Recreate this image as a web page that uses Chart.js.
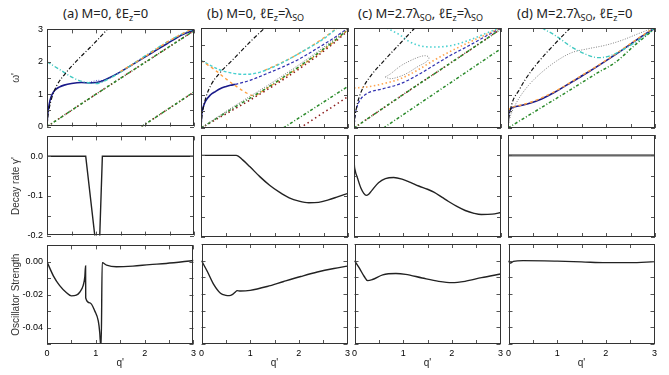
<!DOCTYPE html>
<html>
<head>
<meta charset="utf-8">
<script src="https://cdn.jsdelivr.net/npm/chart.js@4.4.1/dist/chart.umd.min.js"></script>
<style>
  body { margin: 0; background: #fff; }
  #wrap { position: relative; width: 669px; height: 375px; overflow: hidden; }
  canvas { position: absolute; }
  .ttl { position: absolute; top: 5px; font: 13px "Noto Sans", sans-serif; color: #222; white-space: nowrap; line-height: 16px; }
  .ttl sub { font-size: 9px; vertical-align: -3px; line-height: 0; }
</style>
</head>
<body>
<div id="wrap">
  <div class="ttl" style="left:63px">(a) M=0, ℓE<sub>z</sub>=0</div>
  <div class="ttl" style="left:207px">(b) M=0, ℓE<sub>z</sub>=λ<sub>SO</sub></div>
  <div class="ttl" style="left:358px">(c) M=2.7λ<sub>SO</sub>, ℓE<sub>z</sub>=λ<sub>SO</sub></div>
  <div class="ttl" style="left:517px">(d) M=2.7λ<sub>SO</sub>, ℓE<sub>z</sub>=0</div>
</div>
<script>
// tick labels
const qTicks = [0, 1, 2, 3];
const omegaTicks = [0, 1, 2, 3];
const decayTicks = [0, -0.1, -0.2];
const oscTicks = [0, -0.02, -0.04];

// ω' branches as [q', ω'] pairs
const aBlack = [[0,0],[0.02,0.35],[0.05,0.6],[0.1,0.9],[0.2,1.27],[0.37,1.63],[0.6,2.02],[0.95,2.55],[1.23,3.0]];
const aBlue = [[0,0],[0.01,0.3],[0.03,0.55],[0.06,0.8],[0.1,0.98],[0.16,1.12],[0.25,1.22],[0.35,1.28],[0.5,1.33],[0.7,1.36],[0.88,1.35],[1.0,1.36],[1.1,1.39],[1.22,1.47],[1.5,1.69],[1.76,1.93],[2.1,2.24],[2.44,2.55],[2.78,2.85],[3,2.97]];
const aBump = [[0.85,1.36],[0.95,1.4],[1.04,1.43],[1.12,1.42],[1.2,1.46]];
const aCyan = [[0,2.0],[0.26,1.76],[0.54,1.5],[0.75,1.38],[0.9,1.34],[1.01,1.33],[1.1,1.36],[1.22,1.44],[1.49,1.67],[1.76,1.94],[2.1,2.28],[2.44,2.6],[2.78,2.88],[3,3.02]];
const aOrange = [[1.5,1.7],[2.0,2.16],[2.5,2.65],[3,3.05]];
const aGreen = [[0,0],[1,1.0],[2,1.98],[3,2.96]];
const aGreen2 = [[1.93,0],[3,1.07]];

const bBlack = [[0,0],[0.02,0.38],[0.05,0.62],[0.1,0.92],[0.2,1.28],[0.37,1.63],[0.65,2.05],[1.0,2.58],[1.3,3.0]];
const bBlue = [[0,0],[0.01,0.3],[0.02,0.48],[0.05,0.65],[0.09,0.8],[0.19,0.99],[0.3,1.1],[0.39,1.18],[0.5,1.24],[0.6,1.28],[0.7,1.31]];
const bBlueDash = [[0.7,1.31],[1.0,1.43],[1.34,1.63],[1.68,1.84],[2.02,2.08],[2.36,2.38],[2.69,2.68],[3,3.0]];
const bCyan = [[0,2.03],[0.19,1.88],[0.39,1.74],[0.66,1.64],[0.87,1.61],[1.14,1.65],[1.48,1.83],[1.81,2.08],[2.15,2.36],[2.49,2.66],[2.8,3.02]];
const bOrange = [[0,2.02],[0.15,1.88],[0.32,1.7],[0.53,1.45],[0.73,1.24],[0.93,1.05],[1.07,0.97],[1.34,1.19],[2.02,1.84],[2.69,2.56],[3,2.95]];
const bOrangeUp = [[1.3,1.73],[1.8,2.07],[2.3,2.5],[2.8,3.02]];
const bGreen = [[0,0],[0.66,0.6],[1.34,1.2],[2.02,1.86],[2.69,2.58],[3,2.96]];
const bRed = [[0,0],[0.66,0.55],[1.34,1.14],[2.02,1.79],[2.69,2.52],[3,2.92]];
const bGray = [[0,0],[0.66,0.64],[1.34,1.26],[2.02,1.92],[2.69,2.63],[3,2.99]];
const bGreen2 = [[1.68,0],[3,1.25]];
const bRed2 = [[2.02,0],[3,0.94]];

const cBlack = [[0,0],[0.02,0.35],[0.05,0.6],[0.1,0.9],[0.2,1.25],[0.35,1.58],[0.6,2.0],[0.95,2.55],[1.24,3.0]];
const cCyan = [[0.67,3.0],[0.8,2.9],[0.95,2.78],[1.12,2.6],[1.29,2.49],[1.45,2.44],[1.63,2.43],[1.97,2.47],[2.32,2.62],[2.66,2.82],[2.93,2.98]];
const cLoop = [[0.64,1.53],[0.74,1.62],[0.95,1.86],[1.15,2.02],[1.29,2.11],[1.4,2.16],[1.49,2.16],[1.53,2.1],[1.49,2.0],[1.3,1.84],[1.08,1.64],[0.9,1.53],[0.74,1.48],[0.64,1.53]];
const cOrange = [[0,1.2],[0.26,1.23],[0.6,1.33],[0.95,1.48],[1.29,1.73],[1.63,2.03],[1.97,2.3],[2.32,2.55],[2.66,2.78],[3,3.02]];
const cBlue = [[0,0],[0.02,0.35],[0.05,0.58],[0.12,0.83],[0.26,1.03],[0.6,1.18],[0.95,1.33],[1.29,1.58],[1.63,1.88],[1.97,2.18],[2.32,2.45],[2.66,2.73],[3,3.0]];
const cGreen = [[0,0],[1,1.0],[2,1.98],[3,2.97]];
const cGreen2 = [[0.6,0],[3,2.38]];

const dBlack = [[0,0],[0.02,0.33],[0.05,0.55],[0.1,0.82],[0.22,1.12],[0.35,1.45],[0.62,1.98],[0.96,2.53],[1.27,3.0]];
const dGray = [[0,0],[0.03,0.25],[0.08,0.48],[0.22,0.88],[0.42,1.28],[0.62,1.58],[0.96,1.98],[1.3,2.26],[1.64,2.38],[1.98,2.48],[2.32,2.63],[2.66,2.83],[3,3.02]];
const dCyan = [[0.69,3.0],[0.96,2.78],[1.3,2.43],[1.64,2.18],[1.85,2.11],[2.05,2.15],[2.32,2.33],[2.66,2.63],[3,3.0]];
const dBlue = [[0,0],[0.01,0.38],[0.03,0.5],[0.06,0.58],[0.12,0.63],[0.29,0.68],[0.62,0.83],[0.96,1.08],[1.3,1.38],[1.64,1.68],[1.98,2.0],[2.32,2.33],[2.66,2.68],[3,3.0]];
const dOrange = [[0,0.52],[0.05,0.6],[0.15,0.65],[0.3,0.7],[0.62,0.86],[1.0,1.13],[1.5,1.57],[2,2.03],[2.5,2.53],[3,3.03]];
const dGreen = [[0,0],[0.6,0.54],[1.2,1.08],[1.8,1.63],[2.2,1.98],[2.6,2.5],[3,2.98]];

// decay rate γ'
const aDecay = [[0,0],[0.79,0],[0.98,-0.205],[1.075,-0.205],[1.13,0],[3,0]];
const bDecay = [[0,0],[0.72,0],[0.85,-0.011],[1.0,-0.028],[1.2,-0.052],[1.4,-0.073],[1.6,-0.09],[1.8,-0.104],[2.0,-0.112],[2.2,-0.116],[2.4,-0.115],[2.6,-0.109],[2.8,-0.101],[3.0,-0.093]];
const cDecay = [[0,0],[0.005,-0.02],[0.02,-0.035],[0.07,-0.055],[0.14,-0.08],[0.2,-0.093],[0.25,-0.098],[0.3,-0.095],[0.37,-0.085],[0.5,-0.067],[0.64,-0.057],[0.81,-0.054],[0.98,-0.058],[1.15,-0.066],[1.32,-0.075],[1.5,-0.083],[1.63,-0.09],[1.8,-0.103],[1.93,-0.113],[2.1,-0.125],[2.27,-0.135],[2.45,-0.142],[2.6,-0.145],[2.82,-0.144],[3,-0.14]];
const dDecay = [[0,0],[3,0]];

// oscillator strength
const aOsc = [[0,0],[0.13,-0.0085],[0.26,-0.0145],[0.4,-0.0188],[0.5,-0.0207],[0.6,-0.0203],[0.67,-0.0185],[0.74,-0.0145],[0.775,-0.009],[0.79,-0.0025],[0.793,-0.022],[0.88,-0.025],[0.98,-0.03],[1.05,-0.036],[1.08,-0.043],[1.1,-0.051],[1.11,-0.051],[1.13,-0.0005],[1.22,-0.002],[1.42,-0.003],[1.76,-0.0026],[2.1,-0.0017],[2.44,-0.001],[3,0.0008]];
const bOsc = [[0,0],[0.12,-0.0065],[0.25,-0.0142],[0.39,-0.0195],[0.5,-0.0208],[0.57,-0.021],[0.64,-0.0202],[0.7,-0.0187],[0.73,-0.018],[0.8,-0.0182],[1.0,-0.0178],[1.35,-0.0155],[1.69,-0.0125],[2.04,-0.0095],[2.38,-0.0068],[2.72,-0.0047],[3.0,-0.0033]];
const cOsc = [[0,0],[0.1,-0.0045],[0.2,-0.0095],[0.27,-0.012],[0.37,-0.0113],[0.58,-0.0085],[0.85,-0.0077],[1.05,-0.0082],[1.39,-0.0104],[1.73,-0.0124],[2.0,-0.0132],[2.27,-0.0124],[2.61,-0.0102],[3,-0.008]];
const dOsc = [[0,0],[0.03,-0.0015],[0.06,-0.0012],[0.1,-0.0004],[0.3,0],[1.0,-0.0003],[1.5,-0.0007],[2.0,-0.0012],[2.5,-0.0012],[3,-0.0006]];

const style = {
  black:   { borderColor: '#111', borderWidth: 1.2, borderDash: [4, 2, 1, 2] },
  navy:    { borderColor: '#1a1a8a', borderWidth: 1.6 },
  navyDash:{ borderColor: '#3030b0', borderWidth: 1.2, borderDash: [3, 2] },
  slate:   { borderColor: '#5a5ad0', borderWidth: 1, borderDash: [1, 1.5] },
  cyanDD:  { borderColor: '#40c8c0', borderWidth: 1.4, borderDash: [4, 2, 1, 2] },
  cyanDash:{ borderColor: '#48d0d0', borderWidth: 1.4, borderDash: [3, 2] },
  cyanDot: { borderColor: '#48d0d0', borderWidth: 1.6, borderDash: [1.5, 2.5] },
  orange:  { borderColor: '#ffa040', borderWidth: 1.4, borderDash: [3, 3] },
  orangeDot:{ borderColor: '#ffa550', borderWidth: 1.6, borderDash: [1.5, 2.5] },
  green:   { borderColor: '#2a8a2a', borderWidth: 1.5, borderDash: [3, 2, 1, 2] },
  red:     { borderColor: '#8b1a1a', borderWidth: 1.5, borderDash: [1.5, 3] },
  gray:    { borderColor: '#808080', borderWidth: 1, borderDash: [1, 1.5] },
  curve:   { borderColor: '#222', borderWidth: 1.4 },
  flat:    { borderColor: '#666', borderWidth: 2.2 }
};

function ds(data, s, extra) {
  return Object.assign({ data, pointRadius: 0, fill: false, cubicInterpolationMode: 'monotone' }, style[s], extra || {});
}

const panels = [
  [
    [ds(aGreen, 'green'), ds(aGreen, 'red'), ds(aGreen2, 'green'), ds(aGreen2, 'red'), ds(aBlack, 'black'),
     ds(aOrange, 'orange'), ds(aCyan, 'cyanDD'), ds(aBlue, 'navy'), ds(aBump, 'slate')],
    [ds(bGray, 'gray'), ds(bGreen, 'green'), ds(bRed, 'red'), ds(bGreen2, 'green'), ds(bRed2, 'red'), ds(bBlack, 'black'),
     ds(bOrange, 'orange'), ds(bCyan, 'cyanDash'), ds(bOrangeUp, 'orange'), ds(bBlue, 'navy'), ds(bBlueDash, 'navyDash')],
    [ds(cGreen, 'green'), ds(cGreen, 'red'), ds(cGreen2, 'green'), ds(cBlack, 'black'), ds(cLoop, 'gray', { cubicInterpolationMode: 'default', tension: 0.4 }),
     ds(cOrange, 'orangeDot'), ds(cCyan, 'cyanDot'), ds(cBlue, 'navyDash')],
    [ds(dGreen, 'green'), ds(dGray, 'gray'), ds(dBlack, 'black'), ds(dCyan, 'cyanDD'), ds(dOrange, 'orange'), ds(dBlue, 'navy')]
  ],
  [
    [ds(aDecay, 'curve', { cubicInterpolationMode: 'default', tension: 0 })],
    [ds(bDecay, 'curve')],
    [ds(cDecay, 'curve')],
    [ds(dDecay, 'flat')]
  ],
  [
    [ds(aOsc, 'curve')],
    [ds(bOsc, 'curve')],
    [ds(cOsc, 'curve')],
    [ds(dOsc, 'curve')]
  ]
];

const rows = [
  { top: 28, h: 100, min: 0, max: 3, step: 0.5, labels: omegaTicks, digits: 0, title: "ω'" },
  { top: 135, h: 102, min: -0.2, max: 0.05, step: 0.05, labels: decayTicks, digits: 1, title: "Decay rate γ'" },
  { top: 244, h: 100, min: -0.05, max: 0.01, step: 0.01, labels: oscTicks, digits: 2, title: 'Oscillator Strength' }
];
const cols = [47, 201, 354, 508];
const plotW = 147;
const font = 'Liberation Sans';

function fmt(labels, digits) {
  return v => {
    const hit = labels.find(l => Math.abs(l - v) < 1e-9);
    return hit === undefined ? '' : hit.toFixed(digits);
  };
}

// box + inward ticks on all four sides
const frame = {
  id: 'frame',
  afterDatasetsDraw(chart) {
    const { ctx, chartArea: a, scales: { x, y } } = chart;
    ctx.save();
    ctx.strokeStyle = '#555';
    ctx.lineWidth = 1;
    ctx.beginPath();
    x.ticks.forEach(t => {
      const p = Math.round(x.getPixelForValue(t.value)) + 0.5;
      ctx.moveTo(p, a.bottom); ctx.lineTo(p, a.bottom - 4);
      ctx.moveTo(p, a.top); ctx.lineTo(p, a.top + 4);
    });
    y.ticks.forEach(t => {
      const p = Math.round(y.getPixelForValue(t.value)) + 0.5;
      ctx.moveTo(a.left, p); ctx.lineTo(a.left + 4, p);
      ctx.moveTo(a.right, p); ctx.lineTo(a.right - 4, p);
    });
    ctx.stroke();
    ctx.strokeStyle = '#333';
    ctx.strokeRect(Math.round(a.left) + 0.5, Math.round(a.top) + 0.5, Math.round(a.width) - 1, Math.round(a.height) - 1);
    ctx.restore();
  }
};

const wrap = document.getElementById('wrap');
rows.forEach((row, r) => {
  cols.forEach((left, c) => {
    const yW = c === 0 ? left : 6;
    const xH = r === 2 ? 26 : 8;
    const padTop = 8, padR = 6;
    const cv = document.createElement('canvas');
    cv.width = yW + plotW + padR;
    cv.height = padTop + row.h + xH;
    cv.style.left = (left - yW) + 'px';
    cv.style.top = (row.top - padTop) + 'px';
    wrap.appendChild(cv);
    new Chart(cv.getContext('2d'), {
      type: 'line',
      data: { datasets: panels[r][c] },
      options: {
        responsive: false,
        animation: false,
        events: [],
        layout: { padding: { top: padTop, right: padR, left: 0, bottom: 0 } },
        plugins: { legend: { display: false }, tooltip: { enabled: false } },
        scales: {
          x: {
            type: 'linear', min: 0, max: 3,
            grid: { display: false, drawTicks: false, tickLength: 0 },
            border: { display: false },
            ticks: { display: r === 2, stepSize: 0.5, autoSkip: false, maxRotation: 0, padding: 4,
                     color: '#000', font: { family: font, size: 9 }, callback: fmt(qTicks, 0) },
            title: { display: r === 2, text: "q'", color: '#222', font: { family: font, size: 10 }, padding: { top: 0, bottom: 1 } },
            afterFit: s => { s.height = xH; }
          },
          y: {
            type: 'linear', min: row.min, max: row.max,
            grid: { display: false, drawTicks: false, tickLength: 0 },
            border: { display: false },
            ticks: { display: c === 0, stepSize: row.step, autoSkip: false, padding: 4,
                     color: '#000', font: { family: font, size: 9 }, callback: fmt(row.labels, row.digits) },
            title: { display: c === 0, text: row.title, color: '#333', font: { family: font, size: 10 }, padding: { top: 10, bottom: 0 } },
            afterFit: s => { s.width = yW; }
          }
        }
      },
      plugins: [frame]
    });
  });
});
</script>
</body>
</html>
